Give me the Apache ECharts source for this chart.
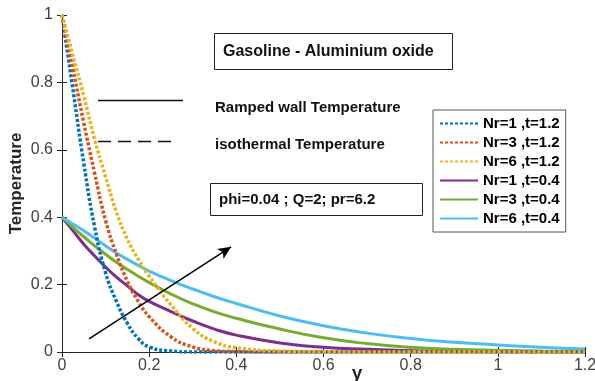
<!DOCTYPE html>
<html>
<head>
<meta charset="utf-8">
<script src="https://cdn.jsdelivr.net/npm/echarts@6/dist/echarts.min.js"></script>
<style>
  html, body { margin: 0; padding: 0; background: #fff; }
  #chart { width: 595px; height: 381px; }
</style>
</head>
<body>
<div id="chart"></div>
<script>
// y positions (shared by every curve)
const ys = [0, 0.025, 0.05, 0.075, 0.1, 0.125, 0.15, 0.175, 0.2, 0.25, 0.3, 0.35, 0.4, 0.5, 0.6, 0.7, 0.8, 0.9, 1.0, 1.1, 1.2]

// ramped wall (t=1.2), dotted
const nr1_t12 = [1, 0.78, 0.56, 0.37, 0.235, 0.15, 0.085, 0.04, 0.015, 0.003, 0, 0, 0, 0, 0, 0, 0, 0, 0, 0, 0]
const nr3_t12 = [1, 0.84, 0.68, 0.53, 0.39, 0.29, 0.21, 0.15, 0.105, 0.045, 0.015, 0.004, 0.001, 0, 0, 0, 0, 0, 0, 0, 0]
const nr6_t12 = [1, 0.88, 0.76, 0.63, 0.52, 0.415, 0.335, 0.275, 0.225, 0.14, 0.07, 0.03, 0.013, 0.003, 0.001, 0, 0, 0, 0, 0, 0]

// isothermal (t=0.4), solid
const nr1_t04 = [0.4, 0.36, 0.32, 0.285, 0.252, 0.222, 0.196, 0.17, 0.15, 0.12, 0.092, 0.068, 0.05, 0.027, 0.014, 0.008, 0.004, 0.002, 0.001, 0.001, 0]
const nr3_t04 = [0.4, 0.37, 0.342, 0.315, 0.29, 0.266, 0.245, 0.225, 0.206, 0.172, 0.143, 0.119, 0.1, 0.068, 0.042, 0.025, 0.014, 0.008, 0.005, 0.003, 0.002]
const nr6_t04 = [0.4, 0.38, 0.36, 0.338, 0.315, 0.294, 0.275, 0.257, 0.24, 0.212, 0.187, 0.164, 0.144, 0.107, 0.078, 0.056, 0.04, 0.029, 0.021, 0.014, 0.009]

const seriesNames = ['Nr=1 ,t=1.2', 'Nr=3 ,t=1.2', 'Nr=6 ,t=1.2', 'Nr=1 ,t=0.4', 'Nr=3 ,t=0.4', 'Nr=6 ,t=0.4']
const seriesValues = [nr1_t12, nr3_t12, nr6_t12, nr1_t04, nr3_t04, nr6_t04]
const colors = ['#0072BD', '#D95319', '#EDB120', '#7E2F8E', '#77AC30', '#4DBEEE']

// arrow: tail and head in data coordinates
const arrowFrom = [0.062, 0.039]
const arrowTo = [0.388, 0.312]

const font = '"Liberation Sans", Arial, sans-serif'
const ink = '#262626'

const chart = echarts.init(document.getElementById('chart'), null, { renderer: 'canvas' })

const series = seriesNames.map((name, i) => ({
  name,
  type: 'line',
  data: ys.map((y, j) => [y, seriesValues[i][j]]),
  smooth: true,
  showSymbol: false,
  symbol: 'none',
  silent: true,
  z: i < 3 ? 3 : 2,
  color: colors[i],
  lineStyle: {
    color: colors[i],
    width: i < 3 ? 3.5 : 3,
    type: i < 3 ? [3, 2] : 'solid'
  }
}))

// black arrow through the solid curves
series[5].markLine = {
  silent: true,
  symbol: ['none', 'arrow'],
  symbolSize: [9, 13],
  label: { show: false },
  lineStyle: { color: '#000', width: 1.5, type: 'solid' },
  data: [[{ coord: arrowFrom }, { coord: arrowTo }]]
}

const option = {
  backgroundColor: '#fff',
  animation: false,
  grid: { left: 62, right: 10, top: 15, bottom: 29, containLabel: false, outerBoundsMode: 'none' },
  legend: {
    orient: 'vertical',
    left: 433,
    top: 110,
    padding: 6,
    itemGap: 4,
    itemWidth: 38,
    itemHeight: 14,
    backgroundColor: '#fff',
    borderColor: '#555',
    borderWidth: 1,
    data: seriesNames,
    itemStyle: { opacity: 0 },
    textStyle: { fontFamily: font, fontWeight: 'bold', fontSize: 15, color: '#000', lineHeight: 14 }
  },
  xAxis: [
    {
      type: 'value', min: 0, max: 1.2, interval: 0.2,
      axisLine: { lineStyle: { color: ink, width: 1 } },
      axisTick: { inside: true, length: 5, lineStyle: { color: ink } },
      axisLabel: { fontFamily: font, fontSize: 16, color: '#404040', margin: 6 },
      splitLine: { show: false }
    },
    {
      type: 'value', min: 0, max: 1.2, interval: 0.2, position: 'top',
      axisLine: { lineStyle: { color: ink, width: 1 } },
      axisTick: { inside: true, length: 5, lineStyle: { color: ink } },
      axisLabel: { show: false },
      splitLine: { show: false }
    }
  ],
  yAxis: [
    {
      type: 'value', min: 0, max: 1, interval: 0.2,
      name: 'Temperature', nameLocation: 'middle', nameGap: 37, nameMoveOverlap: false,
      nameTextStyle: { fontFamily: font, fontWeight: 'bold', fontSize: 17, color: ink },
      axisLine: { show: true, lineStyle: { color: ink, width: 1 } },
      axisTick: { show: true, inside: true, length: 5, lineStyle: { color: ink } },
      axisLabel: { fontFamily: font, fontSize: 16, color: '#404040', margin: 9 },
      splitLine: { show: false }
    },
    {
      type: 'value', min: 0, max: 1, interval: 0.2, position: 'right',
      axisLine: { show: true, lineStyle: { color: ink, width: 1 } },
      axisTick: { show: true, inside: true, length: 5, lineStyle: { color: ink } },
      axisLabel: { show: false },
      splitLine: { show: false }
    }
  ],
  graphic: [
    { type: 'text', x: 357, y: 374, style: { text: 'y', font: 'bold 19px ' + font, fill: ink, align: 'center', verticalAlign: 'middle' } },
    { type: 'rect', shape: { x: 214.5, y: 33.5, width: 238, height: 36 }, style: { fill: '#fff', stroke: '#222', lineWidth: 1 }, z: 10 },
    { type: 'text', x: 223, y: 52, style: { text: 'Gasoline - Aluminium oxide', font: 'bold 16px ' + font, fill: '#111', verticalAlign: 'middle' }, z: 11 },
    { type: 'line', shape: { x1: 98, y1: 100.5, x2: 183, y2: 100.5 }, style: { stroke: '#111', lineWidth: 1.5 }, z: 10 },
    { type: 'line', shape: { x1: 98, y1: 141.5, x2: 171, y2: 141.5 }, style: { stroke: '#111', lineWidth: 1.5, lineDash: [13, 7] }, z: 10 },
    { type: 'text', x: 215, y: 108, style: { text: 'Ramped wall Temperature', font: 'bold 15px ' + font, fill: '#111', verticalAlign: 'middle' }, z: 11 },
    { type: 'text', x: 215, y: 145, style: { text: 'isothermal Temperature', font: 'bold 15px ' + font, fill: '#111', verticalAlign: 'middle' }, z: 11 },
    { type: 'rect', shape: { x: 210.5, y: 183.5, width: 212, height: 32 }, style: { fill: '#fff', stroke: '#222', lineWidth: 1 }, z: 10 },
    { type: 'text', x: 219, y: 200, style: { text: 'phi=0.04 ; Q=2; pr=6.2', font: 'bold 15px ' + font, fill: '#111', verticalAlign: 'middle' }, z: 11 }
  ],
  series
}

chart.setOption(option)
</script>
</body>
</html>
